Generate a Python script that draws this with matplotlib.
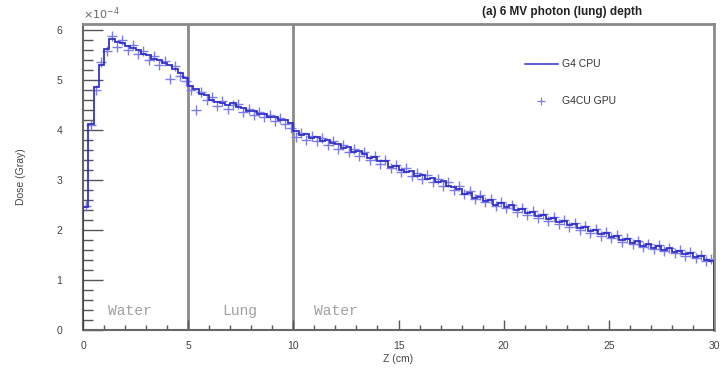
import numpy as np
import matplotlib.pyplot as plt
from matplotlib.lines import Line2D
from matplotlib.ticker import MultipleLocator

# Depth dose in units of 1e-4 Gray, 0.25 cm bins from 0 to 30 cm
z_min, z_max, n_bins = 0.0, 30.0, 120

cpu_dose = [
    2.45, 4.12, 4.85, 5.30, 5.62, 5.82, 5.76, 5.74, 5.68, 5.63,
    5.60, 5.52, 5.49, 5.41, 5.39, 5.33, 5.30, 5.21, 5.14, 5.03,
    4.88, 4.81, 4.71, 4.69, 4.60, 4.55, 4.53, 4.49, 4.53, 4.46,
    4.43, 4.37, 4.37, 4.32, 4.31, 4.25, 4.26, 4.19, 4.19, 4.13,
    3.97, 3.90, 3.92, 3.84, 3.86, 3.78, 3.80, 3.73, 3.72, 3.64,
    3.66, 3.56, 3.57, 3.52, 3.44, 3.46, 3.37, 3.38, 3.26, 3.28,
    3.20, 3.16, 3.18, 3.08, 3.10, 3.02, 3.03, 2.95, 2.97, 2.87,
    2.85, 2.82, 2.72, 2.74, 2.64, 2.66, 2.58, 2.60, 2.50, 2.53,
    2.45, 2.49, 2.40, 2.42, 2.33, 2.36, 2.27, 2.30, 2.21, 2.24,
    2.15, 2.18, 2.09, 2.12, 2.03, 2.06, 1.97, 2.00, 1.91, 1.94,
    1.85, 1.88, 1.79, 1.82, 1.74, 1.77, 1.68, 1.71, 1.64, 1.67,
    1.60, 1.63, 1.56, 1.58, 1.51, 1.53, 1.45, 1.48, 1.40, 1.37,
]

gpu_dose = [
    2.47, 4.10, 4.80, 5.35, 5.58, 5.88, 5.66, 5.80, 5.60, 5.70,
    5.52, 5.58, 5.40, 5.47, 5.30, 5.38, 5.02, 5.27, 5.08, 4.98,
    4.80, 4.40, 4.76, 4.60, 4.66, 4.48, 4.57, 4.42, 4.49, 4.52,
    4.36, 4.42, 4.30, 4.36, 4.25, 4.30, 4.18, 4.24, 4.12, 4.04,
    3.86, 3.94, 3.80, 3.88, 3.78, 3.84, 3.70, 3.78, 3.62, 3.70,
    3.56, 3.62, 3.48, 3.55, 3.40, 3.47, 3.32, 3.40, 3.24, 3.30,
    3.16, 3.24, 3.08, 3.14, 3.02, 3.10, 2.96, 3.02, 2.88, 2.95,
    2.80, 2.88, 2.72, 2.78, 2.62, 2.70, 2.56, 2.62, 2.48, 2.55,
    2.44, 2.50, 2.36, 2.44, 2.30, 2.38, 2.24, 2.31, 2.18, 2.26,
    2.12, 2.20, 2.06, 2.13, 2.00, 2.08, 1.94, 2.02, 1.88, 1.96,
    1.83, 1.90, 1.76, 1.84, 1.71, 1.78, 1.66, 1.72, 1.62, 1.69,
    1.58, 1.64, 1.53, 1.60, 1.48, 1.55, 1.43, 1.49, 1.38, 1.42,
]

# slab boundaries and names
boundaries = [5, 10]
region_names = ["Water", "Lung", "Water"]
region_starts = [1.2, 6.6, 11.0]

edges = np.linspace(z_min, z_max, n_bins + 1)
centers = 0.5 * (edges[:-1] + edges[1:])

plt.rcParams['font.family'] = ['Liberation Sans', 'DejaVu Sans']

fig = plt.figure(figsize=(7.23, 3.72), dpi=100)
ax = fig.add_axes([0.1148, 0.1129, 0.8728, 0.8226])

line_col = '#2c2cc8'
mark_col = '#7c7cec'
grey = '#555555'

ax.stairs(cpu_dose, edges, color=line_col, lw=1.25, zorder=3)
ax.plot(centers, gpu_dose, ls='none', marker='+', ms=7, mew=1.0,
        color=mark_col, zorder=2)

for b in boundaries:
    ax.axvline(b, color='#8a8a8a', lw=2.0, zorder=1)

for name, zs in zip(region_names, region_starts):
    ax.text(zs, 0.38, name, family='Liberation Mono', fontsize=10.5,
            color='#a0a0a0', ha='left', va='center')

ax.set_xlim(z_min, z_max)
ax.set_ylim(0, 6.12)

ax.xaxis.set_major_locator(MultipleLocator(5))
ax.xaxis.set_minor_locator(MultipleLocator(1))
ax.yaxis.set_major_locator(MultipleLocator(1))
ax.yaxis.set_minor_locator(MultipleLocator(0.2))
ax.tick_params(axis='both', which='both', direction='in', color=grey,
               labelcolor='#444444', labelsize=7.5, width=1.0)
ax.tick_params(axis='x', which='major', length=7, pad=8)
ax.tick_params(axis='x', which='minor', length=3.6)
ax.tick_params(axis='y', which='major', length=14.4, pad=15)
ax.tick_params(axis='y', which='minor', length=7.2)

for side in ['left', 'bottom']:
    ax.spines[side].set_color('#666666')
    ax.spines[side].set_linewidth(1.5)
for side in ['top', 'right']:
    ax.spines[side].set_color('#8a8a8a')
    ax.spines[side].set_linewidth(2.0)

ax.set_xlabel("Z (cm)", fontsize=7.5, color='#444444', labelpad=2)
ax.set_ylabel("Dose (Gray)", fontsize=7.5, color='#444444', labelpad=22)
ax.text(0.0, 1.005, r"$\times10^{-4}$", transform=ax.transAxes,
        fontsize=8, color='#666666', ha='left', va='bottom')

fig.text(0.888, 0.967, "(a) 6 MV photon (lung) depth", fontsize=8.5,
         weight='bold', color='#222222', ha='right', va='center')

handles = [
    Line2D([], [], color=line_col, lw=1.1),
    Line2D([], [], ls='none', marker='+', ms=6, mew=0.9, color=mark_col),
]
ax.legend(handles, ["G4 CPU", "G4CU GPU"], loc='upper left',
          bbox_to_anchor=(0.70, 0.885), frameon=False, fontsize=7.5,
          handlelength=3.2, handletextpad=0.35, labelspacing=2.6,
          borderpad=0, borderaxespad=0, labelcolor='#333333')

fig.savefig("out.png", dpi=100)
